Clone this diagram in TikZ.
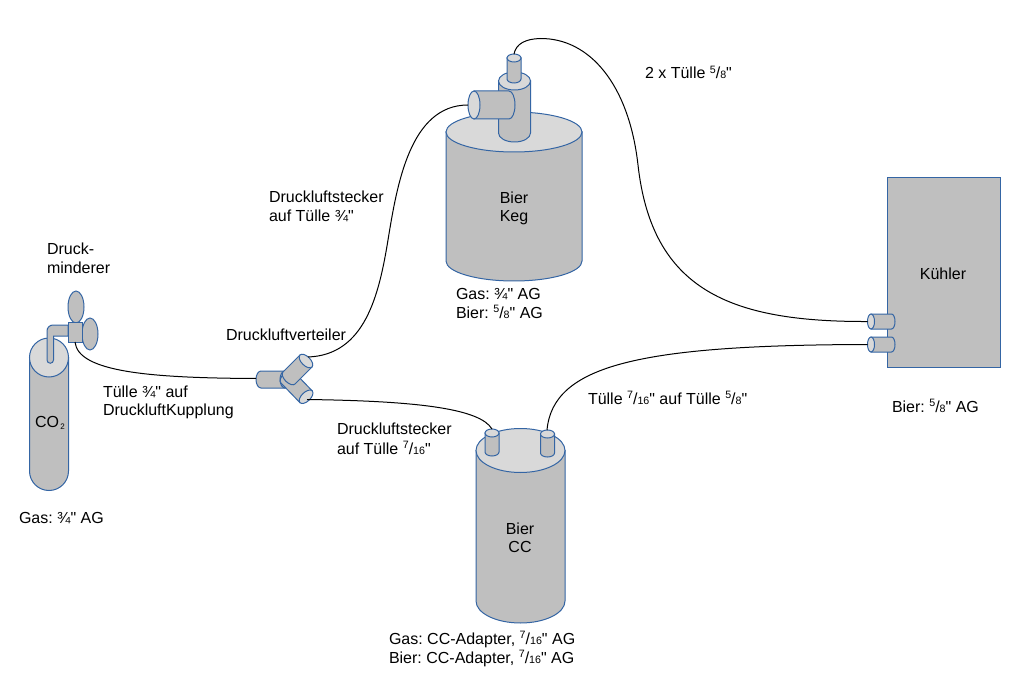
\documentclass[tikz,border=0pt]{standalone}
\usepackage{fontspec}
\newfontfamily\labelfont{Liberation Sans}
\frenchspacing
\definecolor{edge}{HTML}{3465A4}
\definecolor{bodygrey}{HTML}{BFBFBF}
\definecolor{capgrey}{HTML}{D9D9D9}
% Small raised numerator, full-size slash, small denominator
\newcommand{\frc}[2]{\raisebox{.36em}{\fontsize{8}{8}\selectfont #1}/{\fontsize{8}{8}\selectfont #2}}
% Cylinder: base centre (x,y in pixels from the top), axis angle, length, end-face half axes, end-face colour
\newcommand{\cyl}[8]{%
  \begin{scope}[shift={(#2,-#3)},rotate=#4]
    \draw[part] (#5,#7) -- (0,#7) arc[start angle=90,end angle=270,x radius=#6,y radius=#7] -- (#5,-#7) -- cycle;
    \draw[part,fill=#8] (#5,0) ellipse[x radius=#6,y radius=#7];
    \coordinate (#1) at (#5+#6,0);
  \end{scope}}
\tikzset{
  x=.75pt,y=.75pt,
  part/.style={draw=edge,fill=bodygrey,line width=.75pt},
  hose/.style={draw=black,line width=.75pt},
  txt/.style={inner sep=0pt,outer sep=0pt,anchor=base west,font=\labelfont\fontsize{12}{14}\selectfont},
  mid/.style={inner sep=0pt,outer sep=0pt,anchor=base,font=\labelfont\fontsize{12}{14}\selectfont}
}
\begin{document}
\begin{tikzpicture}
\useasboundingbox (0,0) rectangle (1024,-695);
\fill[white] (0,0) rectangle (1024,-695);

% CO2 bottle with pressure regulator
\cyl{co2top}{49}{471}{90}{113.5}{19.5}{19.5}{capgrey}
\draw[part] (68,-325) -- (53,-325) arc[start angle=90,end angle=180,radius=6] -- (47,-360)
  arc[start angle=180,end angle=360,radius=3.25] -- (53.5,-336) -- (68,-336) -- cycle;
\draw[part] (76,-307) ellipse[x radius=8,y radius=16];
\draw[part] (90,-334) ellipse[x radius=8,y radius=16];
\draw[part] (68,-322) rectangle (82,-342);
\coordinate (regout) at (75,-342);

% Manifold
\cyl{mleft}{261}{379.5}{0}{24}{5}{8.5}{bodygrey}
\cyl{mlow}{287}{377}{-46}{27.5}{4.5}{8.5}{capgrey}
\cyl{mup}{289}{378}{45}{24}{4.5}{8.5}{capgrey}
\coordinate (minlet) at (256,-378.5);
\coordinate (mupout) at (308,-357);
\coordinate (mupbend) at (388,-240);
\coordinate (mlowout) at (307,-399.5);

% Keg and its fittings
\cyl{kegtop}{514}{261}{90}{129}{20}{68}{capgrey}
\cyl{kegstem}{514.5}{133}{90}{52}{9}{16}{capgrey}
\cyl{kegbeer}{514}{79}{90}{21}{4}{7}{capgrey}
\cyl{keggas}{509}{105}{180}{35}{6}{14}{capgrey}
\coordinate (keggasin) at (468,-105);
\coordinate (kegbeerout) at (514,-54);
\coordinate (kegarc) at (540,-38.5);
\coordinate (kegfall) at (638,-165);

% CC tank and its fittings
\cyl{cctop}{520.5}{601}{90}{150.5}{22}{44.5}{capgrey}
\cyl{ccgas}{492}{452}{90}{19}{4}{7}{capgrey}
\cyl{ccbeer}{547.5}{453}{90}{19}{4}{7}{capgrey}
\coordinate (ccgasin) at (492,-429);
\coordinate (ccbeerout) at (547,-430);

% Chiller and its fittings
\draw[part] (887,-178) rectangle (1000,-367);
\cyl{chilla}{891.5}{321.5}{180}{20.5}{3.5}{7.5}{capgrey}
\cyl{chillb}{891.5}{344.5}{180}{20.5}{3.5}{7.5}{capgrey}
\coordinate (chillain) at (867.5,-321.5);
\coordinate (chillbin) at (867.5,-344.5);

% Hoses
\draw[hose] (regout) .. controls (78,-372) and (150,-378) .. (minlet);
\draw[hose] (mupout) .. controls (365,-355) and (379,-295) .. (mupbend)
  .. controls (397,-185) and (410,-105) .. (keggasin);
\draw[hose] (kegbeerout) .. controls (516,-44) and (525,-39) .. (kegarc)
  .. controls (590,-38) and (629,-85) .. (kegfall)
  .. controls (652,-290) and (730,-322) .. (chillain);
\draw[hose] (mlowout) .. controls (420,-401) and (480,-409) .. (ccgasin);
\draw[hose] (ccbeerout) .. controls (553,-365) and (640,-345) .. (chillbin);

% Labels
\node[txt] (ldruck) at (47,-255) {Druck-};
\node[txt] (lminderer) at (47,-274) {minderer};
\node[txt] (lco) at (35,-427) {CO{\fontsize{6}{6}\selectfont\raisebox{-.35em}{\,2}}};
\node[txt] (lco2gas) at (19,-523) {Gas: ¾" AG};
\node[txt] (ltuella) at (103,-397) {Tülle ¾" auf};
\node[txt] (ltuellb) at (103,-415) {DruckluftKupplung};
\node[txt] (lvert) at (226,-340) {Druckluftverteiler};
\node[txt] (lstecka) at (269,-203) {Druckluftstecker};
\node[txt] (lsteckb) at (269,-222) {auf Tülle ¾"};
\node[mid] (lkega) at (514,-204) {Bier};
\node[mid] (lkegb) at (514,-222) {Keg};
\node[txt] (lkeggas) at (456,-300) {Gas: ¾" AG};
\node[txt] (lkegbier) at (456,-318) {Bier: \frc{5}{8}" AG};
\node[txt] (lsteckc) at (337,-434) {Druckluftstecker};
\node[txt] (lsteckd) at (337,-454) {auf Tülle \frc{7}{16}"};
\node[txt] (ltwo) at (645,-79) {2 x Tülle \frc{5}{8}"};
\node[txt] (ltuelle) at (588,-404) {Tülle \frc{7}{16}" auf Tülle \frc{5}{8}"};
\node[mid] (lcca) at (520,-534) {Bier};
\node[mid] (lccb) at (520,-552) {CC};
\node[txt] (lccgas) at (389,-644) {Gas: CC-Adapter, \frc{7}{16}" AG};
\node[txt] (lccbier) at (389,-663) {Bier: CC-Adapter, \frc{7}{16}" AG};
\node[mid] (lkuehl) at (943,-280) {Kühler};
\node[txt] (lkuehlb) at (892,-412) {Bier: \frc{5}{8}" AG};
\end{tikzpicture}
\end{document}
